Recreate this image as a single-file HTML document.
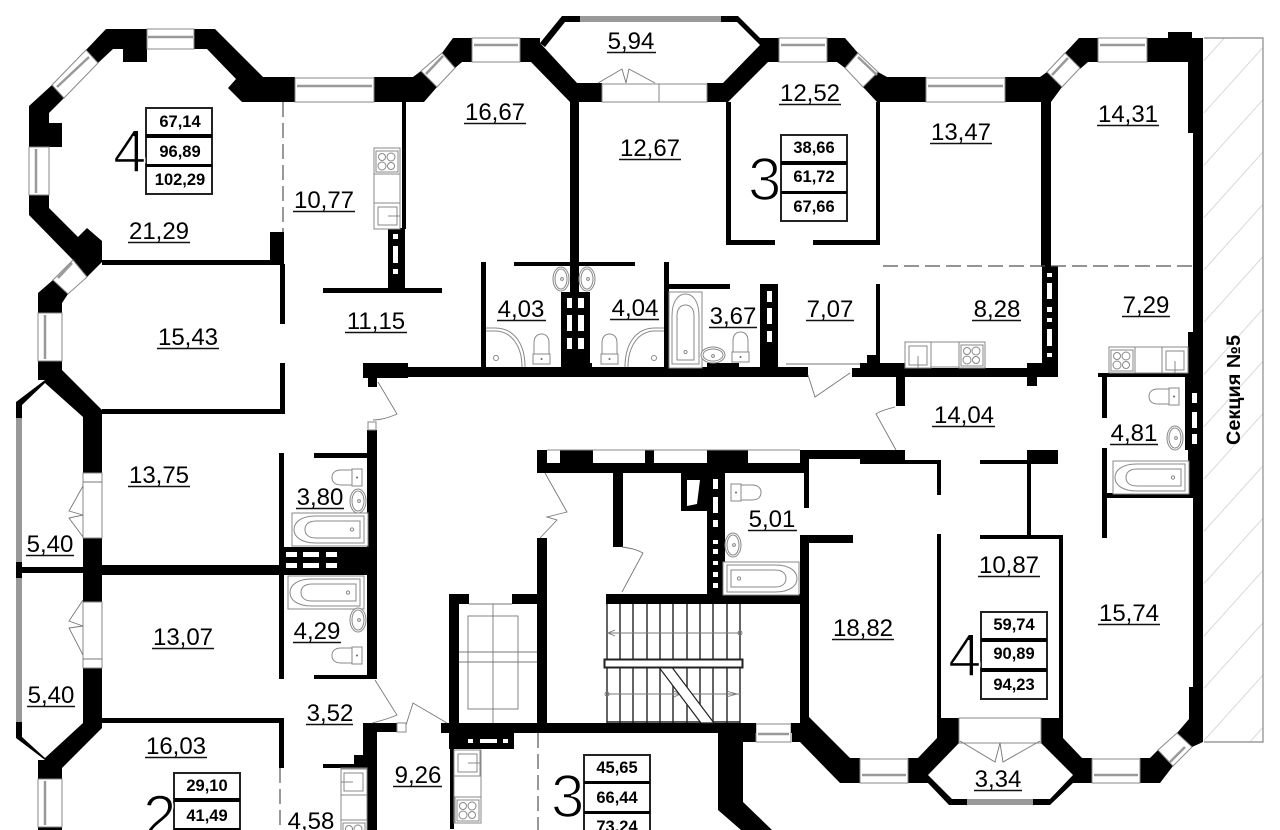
<!DOCTYPE html>
<html><head><meta charset="utf-8"><style>
html,body{margin:0;padding:0;background:#fff}
svg{display:block}
text{font-family:"Liberation Sans",sans-serif;fill:#000}
.l{font-size:24px;text-anchor:middle}
.b{font-size:16.5px;font-weight:bold;text-anchor:middle}
.n{font-size:60px;stroke:#fff;stroke-width:1.6px}
.w{fill:#fff;stroke:#888;stroke-width:1}
.bar{stroke:#999;stroke-width:2.5;fill:none}
.d{fill:none;stroke:#777;stroke-width:.9}
.f{fill:#fff;stroke:#888;stroke-width:1}
.fn{fill:none;stroke:#888;stroke-width:1}
.box{fill:#fff;stroke:#222;stroke-width:2}
.h{fill:#fff}
</style></head><body>
<svg width="1280" height="830" viewBox="0 0 1280 830" xmlns="http://www.w3.org/2000/svg">
<defs>
<pattern id="hp" width="35" height="35" patternUnits="userSpaceOnUse" patternTransform="translate(1204,60) rotate(-48)">
<line x1="0" y1="0" x2="35" y2="0" stroke="#ccc" stroke-width="1.6"/>
</pattern>
<g id="bath"><rect class="f" x="0" y="0" width="76" height="33"/><path class="fn" d="M72,3H24C8,3 2,10 2,16.5C2,23 8,30 24,30H72Z"/><path class="fn" d="M68,8H24C15,8 13,13 13,16.5C13,20 15,25 24,25H68Z"/><circle class="fn" cx="60" cy="16.5" r="1.6"/></g>
<g id="wc"><rect class="f" x="20" y="0" width="10" height="17"/><path class="f" d="M20,1H9C2,1 0,5 0,8.5C0,12 2,16 9,16H20Z"/><circle cx="25" cy="8.5" r="1" fill="#666"/></g>
<g id="stove"><rect class="f" x="0" y="0" width="26" height="26"/><rect class="fn" x="2" y="3" width="22" height="21"/><circle class="fn" cx="8" cy="9" r="3.5"/><circle class="fn" cx="17" cy="9" r="4"/><circle class="fn" cx="8" cy="18" r="4"/><circle class="fn" cx="17" cy="18" r="3.5"/></g>
<g id="sink"><rect class="f" x="0" y="0" width="26" height="26"/><rect class="fn" x="4" y="4" width="18" height="19"/><path class="fn" d="M13,14V26"/></g>
<g id="basin"><ellipse class="f" cx="0" cy="0" rx="8" ry="12"/><ellipse class="fn" cx="0" cy="0" rx="6" ry="10"/><circle class="fn" cx="1" cy="0" r="1.4"/></g>
</defs>

<!-- hatched neighbour section -->
<rect x="1204" y="38" width="59" height="704" fill="url(#hp)"/>
<path d="M1204,38H1263V742H1204" fill="none" stroke="#888" stroke-width="1.2"/>

<!-- outer walls -->
<polygon points="86,50 106,29 147,29 147,62 123,62 123,49 113,49 98,63"/>
<polygon points="52,85 29,106 29,147 62,147 62,123 49,123 49,113 64,98"/>
<polygon points="194,29 215,29 263,77 295,77 295,102 242,102 228,88 236,79 207,49 194,49"/>
<polygon points="29,195 29,215 73,260 87,277 102,262 102,241 87,228 78,237 49,208 49,195"/>
<polygon points="374,77 413,77 421,71 437,87 424,102 374,102"/>
<polygon points="442,53 453,38 472,38 472,62 462,62 455,68"/>
<polygon points="520,38 540,38 540,43 577,83 602,83 602,102 570,102 531,62 520,62"/>
<polygon points="540,43 562,16 581,16 581,22 565,22 545,47"/>
<polygon points="720,16 738,16 760,38 779,38 779,62 768,62 728,102 707,102 707,83 723,83 760,45 737,22 720,22"/>
<polygon points="827,38 845,38 858,53 845,68 837,62 827,62"/>
<polygon points="878,72 887,77 926,77 926,102 877,102 863,87"/>
<polygon points="1005,77 1040,77 1047,72 1062,87 1051,102 1005,102"/>
<polygon points="1065,53 1079,38 1098,38 1098,62 1088,62 1080,69"/>
<polygon points="1147,38 1168,38 1168,32 1192,32 1192,38 1203,38 1203,687 1193,687 1193,133 1188,133 1188,62 1147,62"/>
<polygon points="38,293 53,280 68,294 62,303 62,313 38,313"/>
<polygon points="38,361 62,361 62,370 102,410 102,473 83,473 83,417 45,383 22,405 22,418 16,418 16,402 45,380 38,380"/>
<polygon points="16,722 16,738 45,760 38,760 38,779 62,779 62,768 102,728 102,668 83,668 83,723 45,758 22,737 22,722"/>
<rect x="83" y="538" width="19" height="64"/>
<rect x="16" y="562" width="6" height="16"/>
<rect x="16" y="567" width="70" height="6"/>
<rect x="38" y="826" width="24" height="4"/>
<polygon points="800,535 853,535 853,543 809,543 809,717 850,758 860,758 860,783 840,783 800,742 792,742 792,733 800,723"/>
<polygon points="908,758 918,758 937,738 937,718 959,718 959,743 928,775 928,783 908,783"/>
<polygon points="927,782 949,805 967,805 967,799 952,799 928,775"/>
<polygon points="1041,718 1063,718 1063,738 1082,758 1092,758 1092,783 1073,783 1050,805 1033,805 1033,799 1050,799 1073,775 1041,743"/>
<polygon points="1140,758 1150,758 1158,750 1173,766 1160,783 1140,783"/>
<polygon points="1177,733 1189,719 1189,687 1203,687 1203,742 1192,747"/>
<polygon points="718,733 756,733 756,742 743,742 743,802 772,830 741,830 718,810"/>

<!-- windows -->
<rect class="w" x="147" y="29" width="47" height="20"/><line class="bar" x1="148" y1="37" x2="193" y2="37"/>
<rect class="w" x="295" y="78" width="79" height="24"/><line class="bar" x1="297" y1="86" x2="372" y2="86"/>
<rect class="w" x="472" y="38" width="48" height="24"/><line class="bar" x1="474" y1="45" x2="518" y2="45"/>
<rect class="w" x="779" y="38" width="48" height="24"/><line class="bar" x1="781" y1="45" x2="825" y2="45"/>
<rect class="w" x="926" y="78" width="79" height="24"/><line class="bar" x1="928" y1="86" x2="1003" y2="86"/>
<rect class="w" x="1098" y="38" width="49" height="24"/><line class="bar" x1="1100" y1="45" x2="1145" y2="45"/>
<rect class="w" x="29" y="147" width="20" height="48"/><line class="bar" x1="36" y1="149" x2="36" y2="193"/>
<rect class="w" x="38" y="313" width="24" height="48"/><line class="bar" x1="45" y1="315" x2="45" y2="359"/>
<rect class="w" x="38" y="779" width="24" height="48"/><line class="bar" x1="45" y1="781" x2="45" y2="825"/>
<rect class="w" x="860" y="759" width="48" height="24"/><line class="bar" x1="862" y1="775" x2="906" y2="775"/>
<rect class="w" x="1092" y="759" width="48" height="24"/><line class="bar" x1="1094" y1="775" x2="1138" y2="775"/>
<rect class="w" x="756" y="724" width="35" height="18"/><line class="bar" x1="758" y1="734" x2="789" y2="734"/>
<polygon class="w" points="52,85 86,50 98,63 64,98"/><line class="bar" x1="57" y1="87" x2="89" y2="57"/>
<polygon class="w" points="421,71 442,53 455,68 437,87"/><line class="bar" x1="426" y1="74" x2="443" y2="56"/>
<polygon class="w" points="858,53 878,72 863,87 845,68"/><line class="bar" x1="858" y1="57" x2="877" y2="75"/>
<polygon class="w" points="1047,72 1065,53 1080,68 1062,87"/><line class="bar" x1="1052" y1="75" x2="1068" y2="58"/>
<polygon class="w" points="53,280 73,260 87,277 68,294"/><line class="bar" x1="58" y1="278" x2="72" y2="263"/>
<polygon class="w" points="1158,750 1177,733 1192,747 1173,766"/><line class="bar" x1="1170" y1="762" x2="1185" y2="747"/>
<!-- glazed strips -->
<rect x="580" y="16" width="141" height="6" fill="#999"/>
<rect x="16" y="418" width="6" height="144" fill="#999"/>
<rect x="16" y="578" width="6" height="144" fill="#999"/>
<rect x="967" y="799" width="66" height="6" fill="#999"/>
<!-- balcony door openings -->
<rect class="w" x="602" y="84" width="105" height="18"/><line class="d" x1="659" y1="84" x2="659" y2="102"/>
<path class="d" d="M598,83L622,69L626,83L629,69L655,83"/>
<rect class="w" x="83" y="473" width="19" height="65"/><line class="d" x1="83" y1="482" x2="102" y2="482"/>
<path class="d" d="M83,486L69,511L83,515L69,518L83,537"/>
<rect class="w" x="83" y="602" width="19" height="66"/><line class="d" x1="83" y1="659" x2="102" y2="659"/>
<path class="d" d="M83,600L69,621L83,626L69,628L83,655"/>
<rect class="w" x="959" y="718" width="82" height="25"/>
<path class="d" d="M960,741L995,762L1000,743L1003,762L1040,741"/>

<!-- interior walls -->
<rect x="102" y="260" width="180" height="5"/>
<rect x="270" y="232" width="14" height="32"/>
<rect x="280" y="264" width="5" height="60"/>
<rect x="280" y="363" width="5" height="51"/>
<rect x="102" y="409" width="183" height="5"/>
<rect x="402" y="102" width="4" height="127"/>
<rect x="388" y="228" width="17" height="62"/>
<rect class="h" x="393" y="234" width="5" height="5"/><rect class="h" x="393" y="246" width="5" height="17"/><rect class="h" x="393" y="269" width="5" height="5"/>
<rect x="323" y="288" width="119" height="5"/>
<rect x="570" y="102" width="9" height="190"/>
<rect x="514" y="262" width="121" height="4"/>
<rect x="481" y="262" width="5" height="105"/>
<rect x="664" y="262" width="5" height="105"/>
<rect x="669" y="284" width="61" height="5"/>
<rect x="726" y="102" width="5" height="143"/>
<rect x="726" y="240" width="49" height="5"/>
<rect x="813" y="240" width="67" height="5"/>
<rect x="876" y="102" width="4" height="143"/>
<rect x="876" y="284" width="4" height="79"/>
<rect x="867" y="355" width="9" height="8"/>
<rect x="1041" y="102" width="10" height="165"/>
<!-- corridor top -->
<rect x="363" y="363" width="45" height="15"/>
<rect x="368" y="378" width="9" height="9"/>
<rect x="408" y="367" width="400" height="10"/>
<rect x="561" y="363" width="31" height="14"/>
<rect x="707" y="363" width="32" height="14"/>
<rect x="852" y="368" width="8" height="9"/>
<rect x="860" y="363" width="45" height="14"/>
<rect x="905" y="368" width="122" height="9"/>
<rect x="1027" y="363" width="31" height="14"/>
<rect x="1027" y="377" width="10" height="9"/>
<rect x="896" y="377" width="9" height="29"/>
<!-- vents -->
<rect x="561" y="292" width="29" height="71"/>
<rect class="h" x="567" y="298" width="5" height="10"/><rect class="h" x="578" y="298" width="6" height="10"/>
<rect class="h" x="567" y="315" width="5" height="16"/><rect class="h" x="578" y="315" width="6" height="16"/>
<rect class="h" x="567" y="338" width="5" height="11"/><rect class="h" x="578" y="338" width="6" height="11"/>
<rect x="760" y="284" width="18" height="83"/>
<rect class="h" x="767" y="291" width="5" height="11"/><rect class="h" x="767" y="308" width="5" height="16"/><rect class="h" x="767" y="331" width="5" height="11"/>
<rect x="1042" y="266" width="16" height="97"/>
<rect class="h" x="1047" y="273" width="5" height="4"/><rect class="h" x="1047" y="283" width="5" height="16"/><rect class="h" x="1047" y="307" width="5" height="5"/><rect class="h" x="1047" y="318" width="5" height="4"/><rect class="h" x="1047" y="329" width="5" height="17"/><rect class="h" x="1047" y="353" width="5" height="4"/>
<rect x="1188" y="332" width="6" height="46"/>
<rect x="1185" y="377" width="18" height="73"/>
<rect class="h" x="1192" y="393" width="5" height="10"/><rect class="h" x="1192" y="412" width="5" height="16"/><rect class="h" x="1192" y="434" width="5" height="10"/>
<rect x="1188" y="450" width="6" height="43"/>
<rect x="1098" y="373" width="90" height="4"/>
<rect x="1102" y="375" width="5" height="43"/>
<rect x="1102" y="448" width="5" height="90"/>
<rect x="1105" y="493" width="90" height="5"/>
<!-- left bath blocks -->
<rect x="279" y="453" width="5" height="113"/>
<rect x="314" y="453" width="54" height="5"/>
<rect x="367" y="430" width="10" height="157"/>
<rect class="w" x="368" y="422" width="8" height="8"/>
<rect x="367" y="587" width="10" height="92"/>
<rect x="279" y="547" width="98" height="28"/>
<rect class="h" x="286" y="552" width="11" height="5"/><rect class="h" x="303" y="552" width="16" height="5"/><rect class="h" x="326" y="552" width="11" height="5"/>
<rect class="h" x="286" y="563" width="11" height="5"/><rect class="h" x="303" y="563" width="16" height="5"/><rect class="h" x="326" y="563" width="11" height="5"/>
<rect x="102" y="565" width="180" height="10"/>
<rect x="279" y="575" width="5" height="104"/>
<rect x="314" y="675" width="63" height="4"/>
<rect x="102" y="718" width="182" height="5"/>
<rect x="279" y="718" width="5" height="50"/>
<rect x="363" y="723" width="14" height="45"/>
<rect x="377" y="723" width="20" height="9"/>
<rect class="w" x="397" y="723" width="9" height="9"/>
<rect x="323" y="764" width="54" height="4"/>
<rect x="354" y="755" width="9" height="9"/>
<rect x="367" y="768" width="10" height="62"/>
<!-- lower corridor -->
<rect x="537" y="463" width="263" height="10"/>
<rect x="537" y="450" width="10" height="13"/>
<rect x="560" y="450" width="33" height="13"/>
<rect x="645" y="450" width="9" height="13"/>
<rect x="707" y="450" width="32" height="13"/>
<rect x="739" y="450" width="9" height="13"/>
<path d="M547,450H800" stroke="#888" stroke-width="1" fill="none"/>
<rect x="800" y="450" width="9" height="23"/>
<rect x="800" y="450" width="60" height="9"/>
<rect x="804" y="459" width="5" height="49"/>
<rect x="860" y="450" width="45" height="14"/>
<rect x="905" y="460" width="36" height="4"/>
<rect x="937" y="460" width="4" height="35"/>
<rect x="980" y="460" width="47" height="4"/>
<rect x="1027" y="450" width="31" height="14"/>
<rect x="1027" y="464" width="4" height="72"/>
<rect x="980" y="535" width="83" height="4"/>
<rect x="1059" y="535" width="4" height="183"/>
<rect x="937" y="534" width="4" height="186"/>
<rect x="613" y="473" width="10" height="74"/>
<rect x="537" y="538" width="10" height="185"/>
<!-- shaft by 5,01 -->
<rect x="681" y="473" width="26" height="38"/>
<polygon class="h" points="687,480 700,480 697,504 687,506"/>
<rect x="707" y="473" width="18" height="122"/>
<rect class="h" x="713" y="479" width="5" height="10"/><rect class="h" x="713" y="497" width="5" height="16"/><rect class="h" x="713" y="520" width="5" height="7"/><rect class="h" x="713" y="540" width="5" height="4"/><rect class="h" x="713" y="549" width="5" height="5"/><rect class="h" x="713" y="561" width="5" height="4"/><rect class="h" x="713" y="572" width="5" height="5"/><rect class="h" x="713" y="583" width="5" height="5"/>
<rect x="606" y="594" width="203" height="10"/>
<!-- elevator -->
<rect x="449" y="594" width="10" height="135"/>
<rect x="449" y="594" width="20" height="10"/>
<rect x="512" y="594" width="35" height="10"/>
<path class="d" d="M469,604H512M493,604V723M459,652H537M459,662H537"/>
<rect class="d" x="468" y="616" width="50" height="93"/>
<rect x="441" y="723" width="281" height="10"/>
<rect x="449" y="733" width="65" height="16"/>
<rect class="h" x="468" y="739" width="5" height="4"/><rect class="h" x="480" y="739" width="17" height="4"/><rect class="h" x="503" y="739" width="5" height="4"/>
<rect x="450" y="749" width="4" height="80"/>
<rect x="722" y="723" width="34" height="10"/>
<rect x="791" y="723" width="9" height="10"/>
<!-- stairs -->
<path d="M607,604V723M620,604V723M633,604V723M647,604V723M660,604V723M673,604V723M687,604V723M700,604V723M713,604V723M727,604V723M740,604V723M607,722H740" stroke="#222" stroke-width="1.4" fill="none"/>
<path class="d" d="M607,633H740M607,694H740M615,630L608,633L615,636M726,691L737,694L726,697M674,691L680,694L674,697"/>
<circle class="d" cx="740" cy="633" r="2"/><circle class="d" cx="607" cy="694" r="2"/>
<polygon points="658,666 671,666 714,723 701,723" fill="#fff" stroke="#222" stroke-width="1.2"/>
<rect x="604.5" y="659.5" width="138" height="8" fill="#fff" stroke="#222" stroke-width="2"/>

<!-- dashed lines -->
<path d="M283,102V232M883,266H1193M538,733V830M280,768V830" fill="none" stroke="#555" stroke-width="1.2" stroke-dasharray="15 6"/>

<!-- doors -->
<path class="d" d="M378,382L397,414C388,418 380,420 373,420"/>
<path class="d" d="M808,375L815,397L850,373M786,364H860"/>
<path class="d" d="M895,407C887,409 880,411 876,414L896,450"/>
<path class="d" d="M545,473L567,512L547,517L557,520L540,538"/>
<path class="d" d="M622,547C630,548 638,550 643,553L622,592"/>
<path class="d" d="M375,680L397,715C388,719 380,721 372,723"/>
<path class="d" d="M406,725L413,703L447,723"/>

<!-- fixtures -->
<use href="#bath" x="292" y="513"/>
<use href="#bath" x="288" y="576"/>
<use href="#bath" x="1113" y="461"/>
<use href="#bath" transform="translate(799,562) scale(-1,1)"/>
<use href="#bath" transform="translate(702,292) rotate(90)"/>
<use href="#wc" x="332" y="469"/>
<use href="#wc" x="332" y="647"/>
<use href="#wc" x="1149" y="388"/>
<use href="#wc" transform="translate(761,484) scale(-1,1)"/>
<use href="#wc" transform="translate(550,334) rotate(90)"/>
<use href="#wc" transform="translate(618,334) rotate(90)"/>
<use href="#wc" transform="translate(749,332) rotate(90)"/>
<use href="#basin" x="358" y="501"/>
<use href="#basin" x="358" y="620"/>
<use href="#basin" x="1175" y="438"/>
<use href="#basin" x="733" y="545"/>
<use href="#basin" x="561" y="279"/>
<use href="#basin" x="587" y="279"/>
<use href="#basin" transform="translate(713,355) rotate(90)"/>
<path class="fn" d="M486,328H495C515,328 525,345 525,367M486,331H495C512,331 522,347 522,367"/>
<circle class="fn" cx="496" cy="358" r="2.5"/>
<path class="fn" d="M664,328H655C635,328 625,345 625,367M664,331H655C638,331 628,347 628,367"/>
<circle class="fn" cx="654" cy="358" r="2.5"/>
<!-- kitchens -->
<rect class="f" x="374" y="148" width="26" height="81"/>
<use href="#stove" x="374" y="148"/>
<use href="#sink" transform="translate(374,229) rotate(-90)"/>
<rect class="f" x="905" y="342" width="80" height="25"/>
<use href="#sink" x="905" y="342"/>
<use href="#stove" x="959" y="342"/>
<rect class="f" x="1109" y="347" width="79" height="26"/>
<use href="#stove" x="1109" y="347"/>
<use href="#sink" x="1162" y="347"/>
<rect class="f" x="454" y="750" width="27" height="73"/>
<use href="#sink" transform="translate(454,776) rotate(-90)"/>
<use href="#stove" x="455" y="797"/>
<rect class="f" x="341" y="768" width="26" height="62"/>
<use href="#sink" transform="translate(367,769) rotate(90)"/>
<use href="#stove" x="341" y="820"/>

<!-- area boxes -->
<rect class="box" x="146" y="108" width="66" height="86"/><rect x="146" y="134" width="66" height="4"/><rect x="146" y="164" width="66" height="3"/>
<text class="b" x="180" y="127">67,14</text><text class="b" x="180" y="157">96,89</text><text class="b" x="180" y="185">102,29</text>
<text class="n" x="113" y="172">4</text>
<rect class="box" x="781" y="135" width="66" height="86"/><rect x="781" y="161" width="66" height="4"/><rect x="781" y="191" width="66" height="3"/>
<text class="b" x="814" y="153">38,66</text><text class="b" x="814" y="182">61,72</text><text class="b" x="814" y="212">67,66</text>
<text class="n" x="748" y="200">3</text>
<rect class="box" x="981" y="612" width="66" height="87"/><rect x="981" y="638" width="66" height="4"/><rect x="981" y="668" width="66" height="4"/>
<text class="b" x="1014" y="630">59,74</text><text class="b" x="1014" y="659">90,89</text><text class="b" x="1014" y="690">94,23</text>
<text class="n" x="948" y="676">4</text>
<rect class="box" x="584" y="755" width="66" height="90"/><rect x="584" y="781" width="66" height="3"/><rect x="584" y="811" width="66" height="3"/>
<text class="b" x="617" y="773">45,65</text><text class="b" x="617" y="803">66,44</text><text class="b" x="617" y="832">73,24</text>
<text class="n" x="551" y="817">3</text>
<rect class="box" x="174" y="773" width="66" height="70"/><rect x="174" y="798" width="66" height="4"/><rect x="174" y="828" width="66" height="3"/>
<text class="b" x="207" y="791">29,10</text><text class="b" x="207" y="821">41,49</text>
<text class="n" x="143" y="837">2</text>

<!-- room labels -->
<text class="l" x="324" y="208">10,77</text>
<text class="l" x="159" y="239">21,29</text>
<text class="l" x="495" y="120">16,67</text>
<text class="l" x="631" y="49">5,94</text>
<text class="l" x="650" y="156">12,67</text>
<text class="l" x="810" y="101">12,52</text>
<text class="l" x="961" y="140">13,47</text>
<text class="l" x="1128" y="122">14,31</text>
<text class="l" x="188" y="345">15,43</text>
<text class="l" x="376" y="329">11,15</text>
<text class="l" x="159" y="483">13,75</text>
<text class="l" x="320" y="505">3,80</text>
<text class="l" x="50" y="552">5,40</text>
<text class="l" x="521" y="317">4,03</text>
<text class="l" x="635" y="316">4,04</text>
<text class="l" x="733" y="324">3,67</text>
<text class="l" x="830" y="317">7,07</text>
<text class="l" x="997" y="317">8,28</text>
<text class="l" x="1146" y="313">7,29</text>
<text class="l" x="964" y="423">14,04</text>
<text class="l" x="1134" y="441">4,81</text>
<text class="l" x="772" y="527">5,01</text>
<text class="l" x="1009" y="573">10,87</text>
<text class="l" x="1129" y="621">15,74</text>
<text class="l" x="863" y="636">18,82</text>
<text class="l" x="998" y="787">3,34</text>
<text class="l" x="183" y="645">13,07</text>
<text class="l" x="317" y="639">4,29</text>
<text class="l" x="51" y="703">5,40</text>
<text class="l" x="330" y="721">3,52</text>
<text class="l" x="176" y="754">16,03</text>
<text class="l" x="311" y="829">4,58</text>
<text class="l" x="418" y="783">9,26</text>
<path fill="none" stroke="#111" stroke-width="1.4" d="M293,211.5h62M128,242.5h62M464,123.5h62M607,52.5h49M619,159.5h62M779,104.5h62M930,143.5h62M1097,125.5h62M157,348.5h62M345,332.5h62M128,486.5h62M296,508.5h48M26,555.5h48M497,320.5h49M610,319.5h49M709,327.5h48M806,320.5h48M972,320.5h49M1122,316.5h48M932,426.5h63M1110,444.5h48M748,530.5h49M978,576.5h62M1098,624.5h62M832,639.5h62M974,790.5h48M152,648.5h62M293,642.5h48M27,706.5h48M306,724.5h47M145,757.5h62M393,786.5h49"/>

<text transform="translate(1240,445) rotate(-90)" font-size="19" font-weight="bold" textLength="110" lengthAdjust="spacingAndGlyphs">Секция №5</text>
</svg>
</body></html>
